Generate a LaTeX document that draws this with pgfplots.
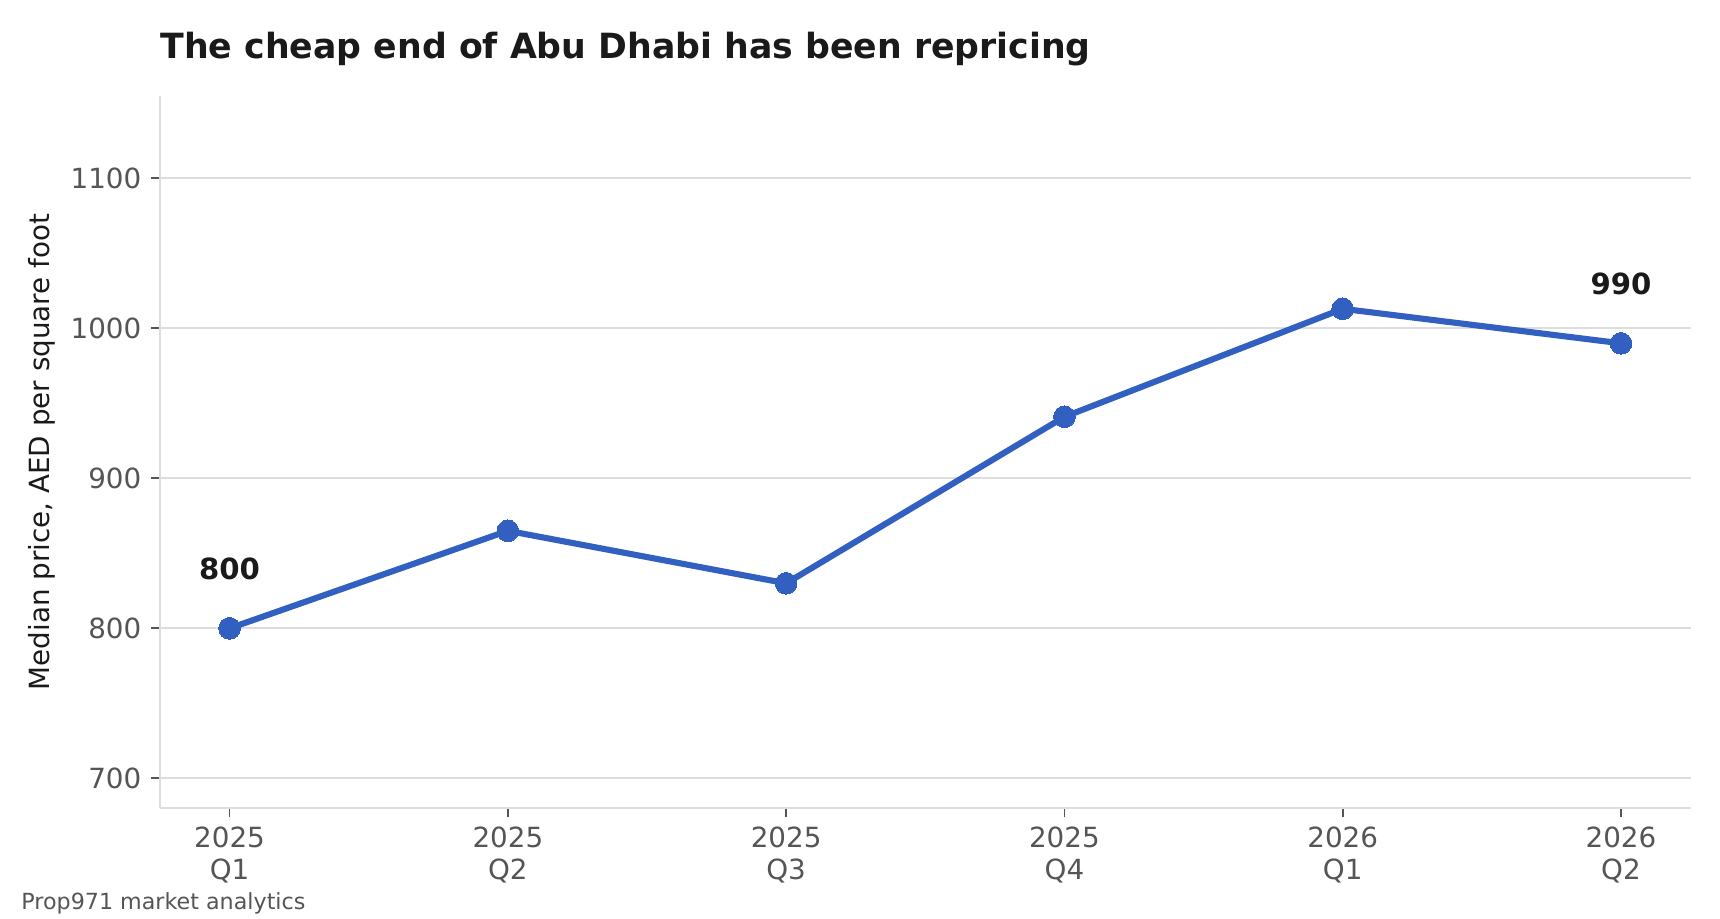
\documentclass[border=0pt]{standalone}
\usepackage{fontspec}
\setmainfont{DejaVu Sans}
\usepackage{pgfplots}
\pgfplotsset{compat=1.18}
\definecolor{lineblue}{RGB}{49,96,192}
\definecolor{gridgray}{RGB}{221,221,221}
\definecolor{tickgray}{RGB}{85,85,85}
\definecolor{titleblack}{RGB}{26,26,26}
\begin{document}
\begin{tikzpicture}
\begin{axis}[
  scale only axis,
  width=551pt, height=256.5pt,
  xmin=-0.25, xmax=5.25,
  ymin=680, ymax=1155,
  axis lines*=left,
  axis line style={gridgray, line width=0.6pt},
  tick align=outside,
  major tick length=3.2pt,
  tick style={tickgray, line width=0.6pt},
  xtick={0,1,2,3,4,5},
  xticklabels={{2025\\Q1},{2025\\Q2},{2025\\Q3},{2025\\Q4},{2026\\Q1},{2026\\Q2}},
  xticklabel style={align=center, font=\fontsize{10}{11.5}\selectfont, text=tickgray},
  ytick={700,800,900,1000,1100},
  yticklabel style={font=\fontsize{10}{12}\selectfont, text=tickgray},
  /pgf/number format/assume math mode=true,
  /pgf/number format/1000 sep={},
  ymajorgrids,
  grid style={gridgray, line width=0.6pt},
  ylabel={Median price, AED per square foot},
  ylabel style={at={(axis description cs:-0.0772,0.5)}, anchor=center,
    font=\fontsize{10}{12}\selectfont, text=titleblack},
  clip=false,
]
% median price per quarter
\addplot[lineblue, line width=2.2pt, mark=*, mark size=3.9pt,
  mark options={fill=lineblue, draw=lineblue, line width=0pt}]
  coordinates {(0,800) (1,865) (2,830) (3,941) (4,1013) (5,990)};
\node[font=\fontsize{10.5}{12}\bfseries, text=titleblack, yshift=21.5pt] at (axis cs:0,800) {800};
\node[font=\fontsize{10.5}{12}\bfseries, text=titleblack, yshift=21.5pt] at (axis cs:5,990) {990};
\end{axis}
\node[anchor=base west, inner sep=0pt, font=\fontsize{12.5}{14}\bfseries, text=titleblack]
  at ([yshift=13.5pt]current axis.north west) {The cheap end of Abu Dhabi has been repricing};
\node[anchor=base west, inner sep=0pt, font=\fontsize{8}{9}\selectfont, text=tickgray]
  at ([xshift=-50.1pt, yshift=-36.5pt]current axis.south west) {Prop971 market analytics};
\path[use as bounding box] ([xshift=-57.6pt, yshift=-39.8pt]current axis.south west)
  rectangle ([xshift=561.6pt, yshift=291pt]current axis.south west);
\end{tikzpicture}
\end{document}
